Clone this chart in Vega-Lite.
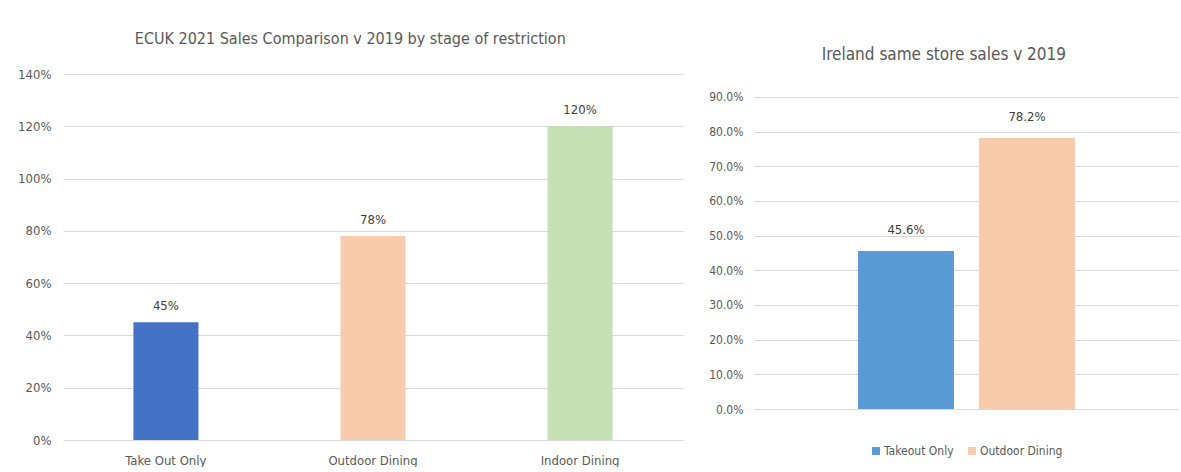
{
  "$schema": "https://vega.github.io/schema/vega-lite/v6.json",
  "padding": {"left": 17, "top": 31, "right": 0, "bottom": 0},
  "background": "white",
  "spacing": 25,
  "resolve": {"scale": {"color": "independent", "y": "independent", "x": "independent"}},
  "config": {
    "font": "Liberation Sans Narrow, DejaVu Sans Condensed, sans-serif",
    "view": {"stroke": null},
    "axis": {
      "labelFont": "Liberation Sans Narrow, DejaVu Sans Condensed, sans-serif",
      "labelColor": "#595959",
      "labelFontSize": 12,
      "gridColor": "#d9d9d9",
      "gridWidth": 1,
      "domain": false,
      "ticks": false
    },
    "legend": {
      "labelFont": "Liberation Sans Narrow, DejaVu Sans Condensed, sans-serif",
      "layout": {"bottom": {"anchor": "middle"}}
    },
    "title": {"font": "Liberation Sans Narrow, DejaVu Sans Condensed, sans-serif"}
  },
  "hconcat": [
    {
      "width": 620,
      "height": 366,
      "title": {
        "text": "ECUK 2021 Sales Comparison v 2019 by stage of restriction",
        "fontSize": 16,
        "fontWeight": "normal",
        "color": "#595959",
        "anchor": "middle",
        "frame": "bounds",
        "offset": 21
      },
      "data": {"values": [
        {"stage": "Take Out Only", "sales": 0.45},
        {"stage": "Outdoor Dining", "sales": 0.78},
        {"stage": "Indoor Dining", "sales": 1.20}
      ]},
      "encoding": {
        "x": {
          "field": "stage", "type": "nominal", "sort": null,
          "scale": {"paddingInner": 0.686, "paddingOuter": 0.34},
          "axis": {"title": null, "labelAngle": 0, "labelPadding": 14, "labelFontSize": 13, "grid": false}
        },
        "y": {
          "field": "sales", "type": "quantitative",
          "scale": {"domain": [0, 1.4], "nice": false},
          "axis": {"title": null, "format": ".0%", "values": [0, 0.2, 0.4, 0.6, 0.8, 1.0, 1.2, 1.4], "labelPadding": 12, "labelFontSize": 13, "grid": true}
        }
      },
      "layer": [
        {
          "mark": {"type": "bar"},
          "encoding": {
            "color": {
              "field": "stage", "type": "nominal",
              "scale": {"domain": ["Take Out Only", "Outdoor Dining", "Indoor Dining"], "range": ["#4472C4", "#F8CBAD", "#C5E0B4"]},
              "legend": null
            }
          }
        },
        {
          "mark": {"type": "text", "dy": -16, "fontSize": 13, "color": "#404040"},
          "encoding": {"text": {"field": "sales", "type": "quantitative", "format": ".0%"}}
        }
      ]
    },
    {
      "width": 425,
      "height": 335,
      "title": {
        "text": "Ireland same store sales v 2019",
        "fontSize": 17,
        "fontWeight": "normal",
        "color": "#595959",
        "anchor": "middle",
        "frame": "bounds",
        "offset": 10
      },
      "data": {"values": [
        {"series": "Takeout Only", "sales": 0.456},
        {"series": "Outdoor Dining", "sales": 0.782}
      ]},
      "encoding": {
        "x": {
          "field": "series", "type": "nominal", "sort": null,
          "scale": {"paddingInner": 0.207, "paddingOuter": 0.86},
          "axis": null
        },
        "y": {
          "field": "sales", "type": "quantitative",
          "scale": {"domain": [0, 0.9663], "nice": false},
          "axis": {"title": null, "format": ".1%", "values": [0, 0.1, 0.2, 0.3, 0.4, 0.5, 0.6, 0.7, 0.8, 0.9], "labelPadding": 11, "labelFontSize": 12, "grid": true}
        }
      },
      "layer": [
        {
          "mark": {"type": "bar"},
          "encoding": {
            "color": {
              "field": "series", "type": "nominal",
              "scale": {"domain": ["Takeout Only", "Outdoor Dining"], "range": ["#5B9BD5", "#F8CBAD"]},
              "legend": {
                "title": null, "orient": "bottom", "direction": "horizontal",
                "symbolType": "square", "symbolSize": 64, "symbolStrokeWidth": 0,
                "labelFontSize": 12, "labelColor": "#595959", "offset": 36, "columnPadding": 12, "labelOffset": 2
              }
            }
          }
        },
        {
          "mark": {"type": "text", "dy": -21, "fontSize": 13, "color": "#404040"},
          "encoding": {"text": {"field": "sales", "type": "quantitative", "format": ".1%"}}
        }
      ]
    }
  ]
}
